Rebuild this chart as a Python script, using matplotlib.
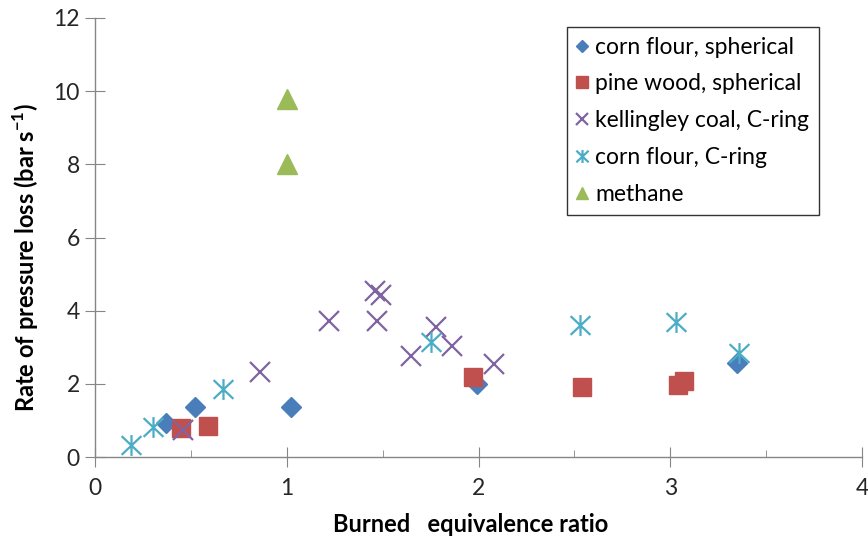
import matplotlib
matplotlib.use("Agg")
import matplotlib.pyplot as plt
from matplotlib.path import Path

plt.rcParams["font.family"] = ["Lato", "DejaVu Sans"]
plt.rcParams["mathtext.fontset"] = "custom"
plt.rcParams["mathtext.rm"] = "Lato"
plt.rcParams["mathtext.bf"] = "Lato:bold"

# Measured series: burned equivalence ratio vs rate of pressure loss
corn_sph_x = [0.37, 0.52, 1.02, 1.99, 3.35]
corn_sph_y = [0.93, 1.38, 1.38, 1.99, 2.56]

pine_sph_x = [0.45, 0.59, 1.97, 2.54, 3.04, 3.07]
pine_sph_y = [0.79, 0.84, 2.19, 1.92, 1.98, 2.08]

kell_x = [0.46, 0.86, 1.22, 1.46, 1.49, 1.47, 1.78, 1.86, 1.65, 2.08]
kell_y = [0.75, 2.33, 3.72, 4.55, 4.42, 3.72, 3.54, 3.04, 2.75, 2.54]

corn_cring_x = [0.19, 0.30, 0.67, 1.75, 2.53, 3.03, 3.36]
corn_cring_y = [0.34, 0.83, 1.85, 3.13, 3.60, 3.69, 2.85]

methane_x = [1.0, 1.0]
methane_y = [9.78, 8.0]

labels = ["corn flour, spherical", "pine wood, spherical",
          "kellingley coal, C-ring", "corn flour, C-ring", "methane"]

# Star marker: vertical stroke crossed by two diagonals
star = Path([(0, -1), (0, 1), (-0.95, -0.9), (0.95, 0.9), (-0.95, 0.9), (0.95, -0.9)],
            [Path.MOVETO, Path.LINETO, Path.MOVETO, Path.LINETO, Path.MOVETO, Path.LINETO])

fig = plt.figure(figsize=(8.68, 5.42), dpi=100)
ax = fig.add_axes([95 / 868, (542 - 457) / 542, (862 - 95) / 868, (457 - 18) / 542])

ax.plot(corn_sph_x, corn_sph_y, ls="none", marker="D", ms=10.2,
        color="#4A7EBB", mec="#4A7EBB", label=labels[0], zorder=3)
ax.plot(pine_sph_x, pine_sph_y, ls="none", marker="s", ms=13.2,
        color="#C0504D", mec="#C0504D", label=labels[1], zorder=4)
ax.plot(kell_x, kell_y, ls="none", marker="x", ms=14, mew=1.6,
        color="#8064A2", label=labels[2], zorder=5)
ax.plot(corn_cring_x, corn_cring_y, ls="none", marker=star, ms=15, mew=1.6,
        color="#4BACC6", label=labels[3], zorder=5)
ax.plot(methane_x, methane_y, ls="none", marker="^", ms=15,
        color="#9BBB59", mec="#9BBB59", label=labels[4], zorder=3)

ax.set_xlim(0, 4)
ax.set_ylim(0, 12)
ax.set_xticks([0, 1, 2, 3, 4])
ax.set_xticks([0.5, 1.5, 2.5, 3.5], minor=True)
ax.set_yticks([0, 2, 4, 6, 8, 10, 12])

axis_col = "#868686"
for side in ("top", "right"):
    ax.spines[side].set_visible(False)
for side in ("left", "bottom"):
    ax.spines[side].set_color(axis_col)
    ax.spines[side].set_linewidth(1.0)

ax.tick_params(axis="both", which="major", direction="inout", length=14,
               color=axis_col, labelsize=16.5, labelcolor="#262626")
ax.tick_params(axis="x", which="major", pad=8)
ax.tick_params(axis="y", which="major", pad=4)
ax.tick_params(axis="x", which="minor", direction="in", length=5, color=axis_col)

ax.set_xlabel("Burned   equivalence ratio", fontsize=17, fontweight="bold")
ax.xaxis.set_label_coords(0.49, -0.128)
ax.set_ylabel(r"Rate of pressure loss (bar s$^{\mathbf{-1}}$)", fontsize=17,
              fontweight="bold")
ax.yaxis.set_label_coords(-0.071, 0.455)

leg = ax.legend(loc="upper right", bbox_to_anchor=((819 - 95) / 767, (457 - 27) / 439),
                borderaxespad=0, fontsize=16.5, frameon=True, fancybox=False,
                markerscale=0.62, handlelength=0.45, handletextpad=0.36,
                labelspacing=0.69, borderpad=0.42)
leg.get_frame().set_edgecolor("#000000")
leg.get_frame().set_linewidth(1.0)

fig.savefig("out.png", dpi=100)
